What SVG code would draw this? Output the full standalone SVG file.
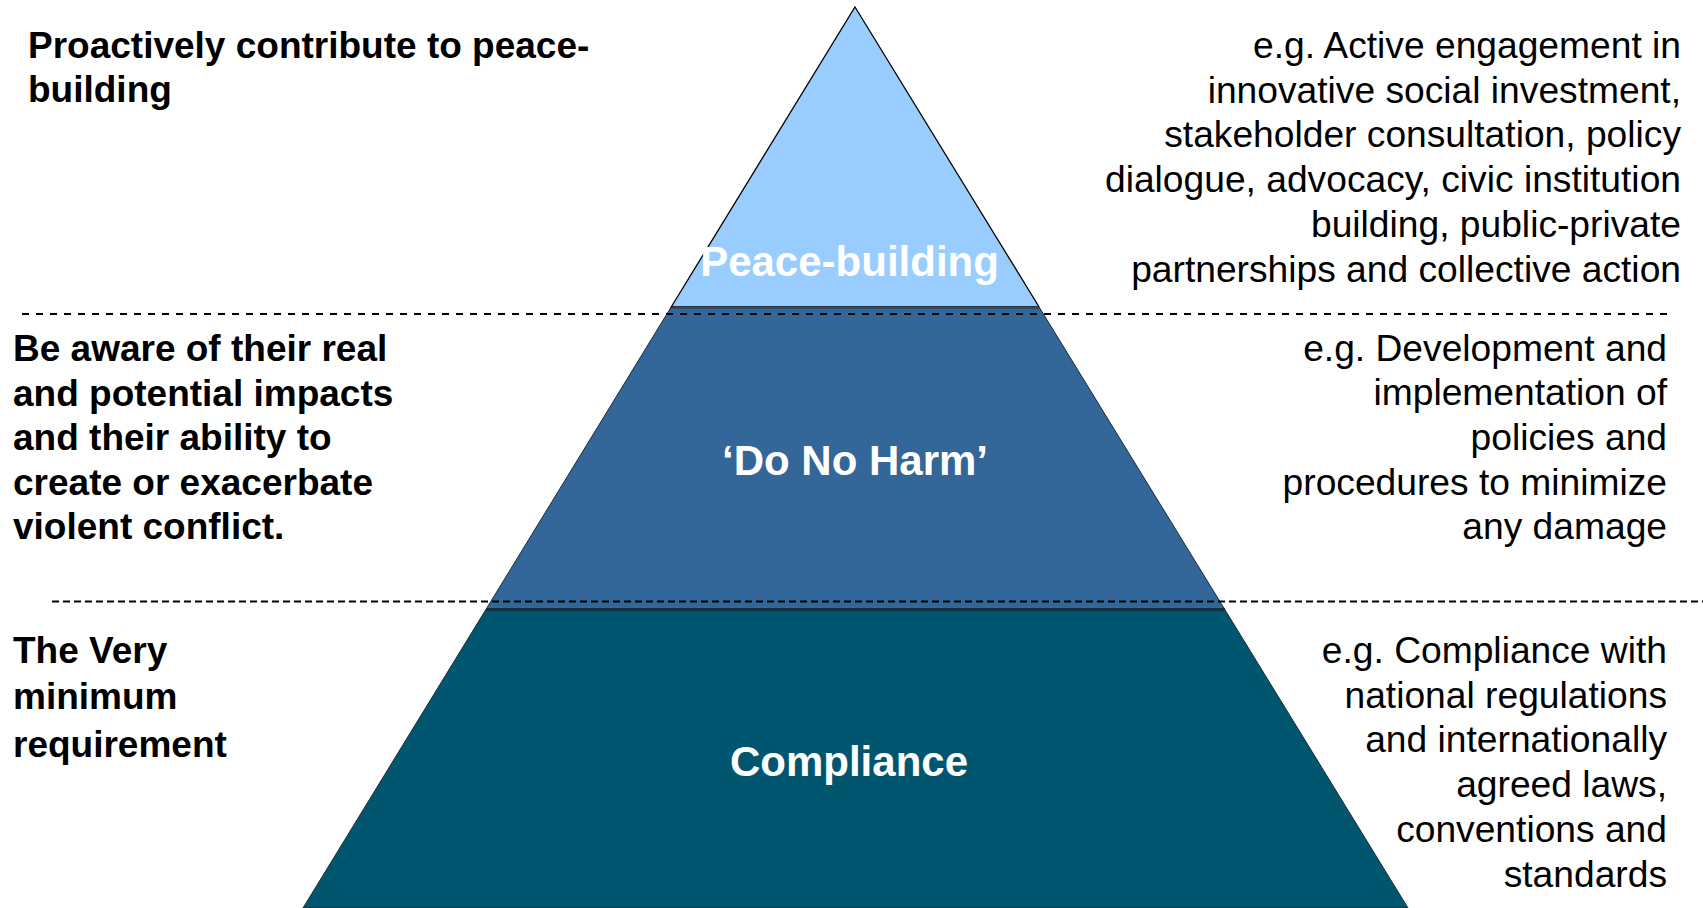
<svg xmlns="http://www.w3.org/2000/svg" width="1703" height="908" viewBox="0 0 1703 908">
<style>
.bold{font-family:"Liberation Sans",Arial,sans-serif;font-weight:bold;font-size:37px;fill:#000}
.reg{font-family:"Liberation Sans",Arial,sans-serif;font-size:37.2px;fill:#000;text-anchor:end}
.lbl{font-family:"Liberation Sans",Arial,sans-serif;font-weight:bold;font-size:42px;fill:#fff;text-anchor:middle}
.dash{stroke:#000;stroke-width:2;fill:none}
</style>
<rect width="1703" height="908" fill="#fff"/>
<g id="layer-compliance">
<polygon points="486.2,609 1224.5,609 1408,908 303,908" fill="#00556F" stroke="#1a2a35" stroke-width="1"/>
<text class="lbl" x="849" y="776">Compliance</text>
</g>
<g id="layer-donoharm">
<polygon points="671.2,307 1039.1,307 1224.5,609 486.2,609" fill="#336699" stroke="#1a2a3a" stroke-width="1"/>
<text class="lbl" x="855" y="475">‘Do No Harm’</text>
</g>
<g id="layer-peacebuilding">
<polygon points="855,7 1039.1,307 671.2,307" fill="#99CCFF" stroke="#000" stroke-width="1.3"/>
<text class="lbl" x="849.5" y="276">Peace-building</text>
</g>
<g id="layer-borders">
<line x1="671" y1="308" x2="1039.5" y2="308" stroke="#2b4a6a" stroke-width="2"/>
<line x1="486" y1="609.5" x2="1225" y2="609.5" stroke="#15303f" stroke-width="3"/>
</g>
<g id="connectors">
<line class="dash" x1="22" y1="314" x2="1668" y2="314" stroke-dasharray="7 7"/>
<line class="dash" x1="52" y1="601.5" x2="1703" y2="601.5" stroke-dasharray="7 4"/>
</g>
<g id="left-top">
<text class="bold" x="28" y="58">Proactively contribute to peace-</text>
<text class="bold" x="28" y="102">building</text>
</g>
<g id="left-mid">
<text class="bold" x="13" y="361">Be aware of their real</text>
<text class="bold" x="13" y="405.5">and potential impacts</text>
<text class="bold" x="13" y="450">and their ability to</text>
<text class="bold" x="13" y="494.5">create or exacerbate</text>
<text class="bold" x="13" y="539">violent conflict.</text>
</g>
<g id="left-bottom">
<text class="bold" x="13" y="663">The Very</text>
<text class="bold" x="13" y="709">minimum</text>
<text class="bold" x="13" y="757">requirement</text>
</g>
<g id="right-top">
<text class="reg" x="1681" y="58">e.g. Active engagement in</text>
<text class="reg" x="1681" y="102.7">innovative social investment,</text>
<text class="reg" x="1681" y="147.4">stakeholder consultation, policy</text>
<text class="reg" x="1681" y="192.1">dialogue, advocacy, civic institution</text>
<text class="reg" x="1681" y="236.8">building, public-private</text>
<text class="reg" x="1681" y="281.5">partnerships and collective action</text>
</g>
<g id="right-mid">
<text class="reg" x="1667" y="360.5">e.g. Development and</text>
<text class="reg" x="1667" y="405">implementation of</text>
<text class="reg" x="1667" y="450">policies and</text>
<text class="reg" x="1667" y="494.5">procedures to minimize</text>
<text class="reg" x="1667" y="539">any damage</text>
</g>
<g id="right-bottom">
<text class="reg" x="1667" y="663">e.g. Compliance with</text>
<text class="reg" x="1667" y="707.7">national regulations</text>
<text class="reg" x="1667" y="752.4">and internationally</text>
<text class="reg" x="1667" y="797">agreed laws,</text>
<text class="reg" x="1667" y="841.8">conventions and</text>
<text class="reg" x="1667" y="886.5">standards</text>
</g>
</svg>
